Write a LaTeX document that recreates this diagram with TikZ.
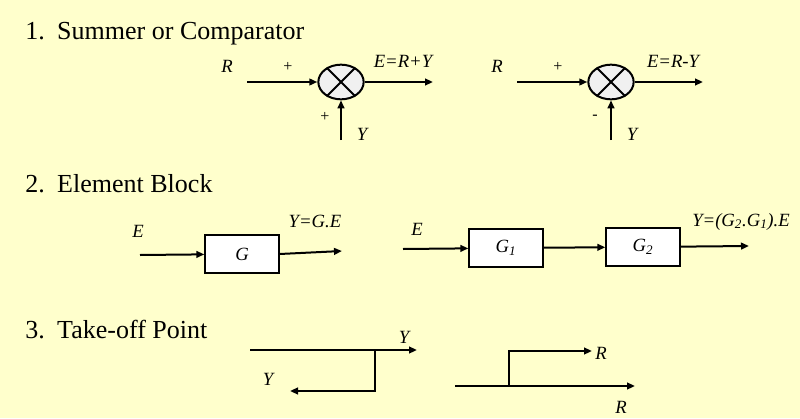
\documentclass[tikz,border=0pt]{standalone}
\usepackage{fontspec}
\setmainfont{Liberation Serif}
\usepackage{xcolor}
\usepackage{tikz}
\usetikzlibrary{arrows.meta,shapes.geometric}
\definecolor{slidebg}{RGB}{255,255,204}

\begin{document}
\begin{tikzpicture}[>={Triangle[length=6pt,width=5pt]},x=0.75pt,y=-0.75pt,
  sig/.style={line width=1.5pt},
  summer/.style={ellipse,draw,line width=1.5pt,fill=black!6,minimum width=34pt,minimum height=26pt,inner sep=0pt},
  block/.style={draw,line width=1.5pt,fill=white,minimum width=55pt,minimum height=29pt,font=\fontsize{14}{16}\selectfont\itshape},
  lbl/.style={anchor=base,inner sep=0pt,font=\fontsize{14}{16}\selectfont\itshape},
  sgnlbl/.style={inner sep=0pt,font=\fontsize{12}{14}\selectfont},
  head/.style={anchor=base west,inner sep=0pt,font=\fontsize{19.5}{23}\selectfont}]
  \fill[slidebg] (0,0) rectangle (800,418);
  \node[head] (h1) at (25,39) {\makebox[24pt][l]{1.}Summer or Comparator};
  \node[head] (h2) at (25,192) {\makebox[24pt][l]{2.}Element Block};
  \node[head] (h3) at (25,338) {\makebox[24pt][l]{3.}Take-off Point};
  \foreach \n/\dx/\sgnch/\eqtxt in {1/0/+/{E=R+Y},2/270/-/{E=R-Y}}{
    \node[summer] (sum\n) at (341+\dx,82) {};
    \draw[sig] (sum\n.45) -- (sum\n.225) (sum\n.135) -- (sum\n.-45);
    \coordinate (rin\n) at (247+\dx,82);
    \coordinate (eout\n) at (433+\dx,82);
    \coordinate (yin\n) at (341+\dx,140);
    \draw[sig,->] (rin\n) -- (sum\n);
    \draw[sig,->] (sum\n) -- (eout\n);
    \draw[sig,->] (yin\n) -- (sum\n);
    \node[lbl] (rlbl\n) at (227+\dx,72) {R};
    \node[sgnlbl] (rsgn\n) at (288+\dx,67) {+};
    \node[lbl] (elbl\n) at (403+\dx,67) {\eqtxt};
    \node[sgnlbl] (ysgn\n) at (325+\dx,117) {\sgnch};
    \node[lbl] (ylbl\n) at (362+\dx,140) {Y};
  }
  \node[block] (g) at (242,254) {G\hspace{12pt}};
  \coordinate (ein) at (140,255);
  \coordinate (yout) at (342,251);
  \draw[sig,->] (ein) -- (g);
  \draw[sig,->] (g.east) -- (yout);
  \node[lbl] (elbl3) at (138,237) {E};
  \node[lbl] (ylbl3) at (315,227) {Y=G.E};
  \node[block] (g1) at (506,248) {G\textsubscript{1}\hspace{12pt}};
  \node[block] (g2) at (643,247) {G\textsubscript{2}\hspace{12pt}};
  \coordinate (ein2) at (403,249);
  \coordinate (yout2) at (749,246);
  \draw[sig,->] (ein2) -- (g1);
  \draw[sig,->] (g1) -- (g2);
  \draw[sig,->] (g2) -- (yout2);
  \node[lbl] (elbl4) at (417,235) {E};
  \node[lbl,anchor=base west] (ylbl4) at (692,226) {Y=(G\textsubscript{2}.G\textsubscript{1}).E};
  \coordinate (tin1) at (250,350);
  \coordinate (tout1) at (417,350);
  \coordinate (tp1) at (375,350);
  \coordinate (tback1) at (290,391);
  \draw[sig,->] (tin1) -- (tout1);
  \draw[sig,->] (tp1) |- (tback1);
  \node[lbl] (ylbl5) at (404,343) {Y};
  \node[lbl] (ylbl6) at (268,385) {Y};
  \coordinate (tin2) at (455,386);
  \coordinate (tout2) at (635,386);
  \coordinate (tp2) at (509,386);
  \coordinate (tfwd2) at (592,351);
  \draw[sig,->] (tin2) -- (tout2);
  \draw[sig,->] (tp2) |- (tfwd2);
  \node[lbl] (rlbl3) at (601,359) {R};
  \node[lbl] (rlbl4) at (621,413) {R};
\end{tikzpicture}
\end{document}
